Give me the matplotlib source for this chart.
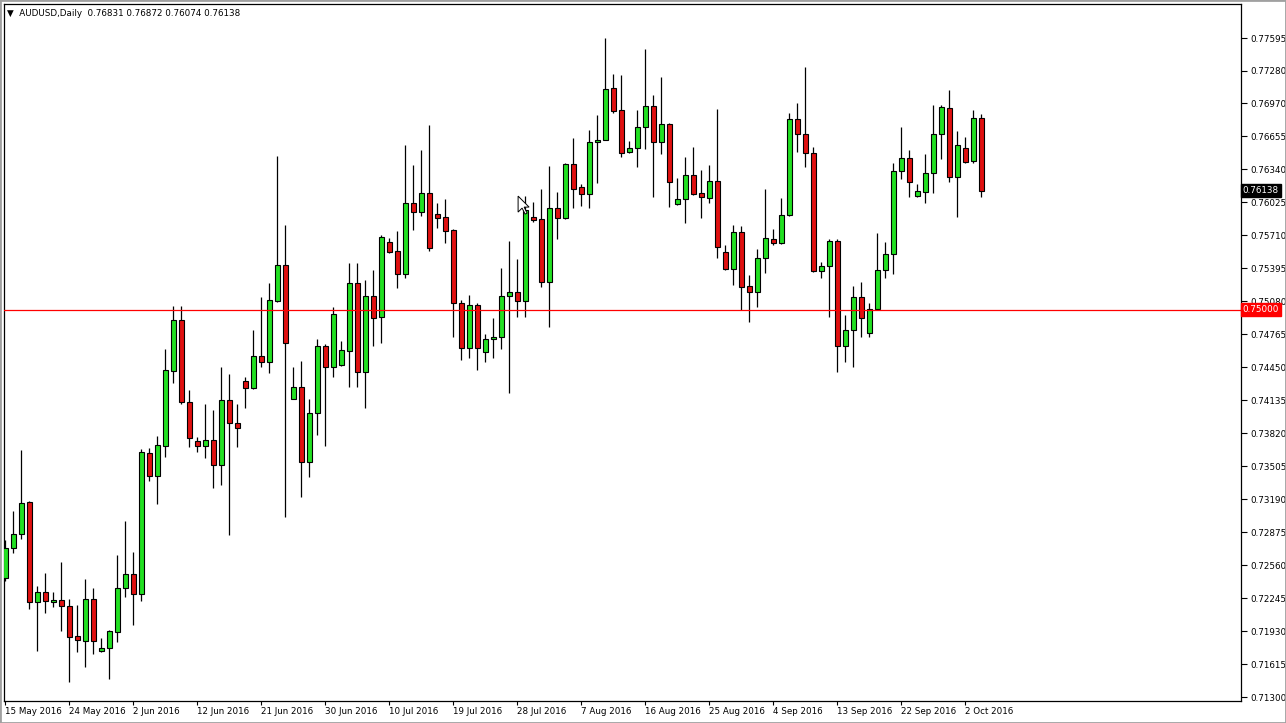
"""AUDUSD daily candles, MT4 style."""

import matplotlib
matplotlib.use('Agg')
import matplotlib.pyplot as plt
from matplotlib.patches import Rectangle, Polygon
from matplotlib.transforms import Affine2D, blended_transform_factory


# ================================== data ===================================

opens = [
    0.72437, 0.72724, 0.72857, 0.73163, 0.72208, 0.72303, 0.72208, 0.72227,
    0.72170, 0.71883, 0.71835, 0.72236, 0.71740, 0.71768, 0.71921, 0.72341,
    0.72475, 0.72284, 0.73631, 0.73411, 0.73698, 0.74414, 0.74901, 0.74118,
    0.73746, 0.73698, 0.73755, 0.73516, 0.74137, 0.73918, 0.74319, 0.74252,
    0.74558, 0.74500, 0.75083, 0.75427, 0.74147, 0.74261, 0.73545, 0.74013,
    0.74653, 0.74452, 0.74472, 0.74605, 0.75255, 0.74405, 0.75131, 0.74930,
    0.75646, 0.75560, 0.75341, 0.76019, 0.75933, 0.76114, 0.75914, 0.75885,
    0.75761, 0.75064, 0.74634, 0.75045, 0.74596, 0.74720, 0.74739, 0.75131,
    0.75169, 0.75083, 0.75885, 0.75866, 0.75264, 0.75971, 0.75876, 0.76392,
    0.76172, 0.76105, 0.76602, 0.76621, 0.77117, 0.76907, 0.76506, 0.76544,
    0.76745, 0.76946, 0.76602, 0.76774, 0.76009, 0.76057, 0.76286, 0.76114,
    0.76067, 0.76229, 0.75551, 0.75389, 0.75742, 0.75226, 0.75169, 0.75494,
    0.75675, 0.75637, 0.75904, 0.76821, 0.76678, 0.76497, 0.75369, 0.75417,
    0.75656, 0.74653, 0.74806, 0.75121, 0.74777, 0.75006, 0.75379, 0.75532,
    0.76325, 0.76449, 0.76086, 0.76124, 0.76306, 0.76678, 0.76926, 0.76267,
    0.76544, 0.76420, 0.76831,
]
highs = [
    0.72800, 0.73077, 0.73660, 0.73172, 0.72361, 0.72485, 0.72303, 0.72590,
    0.72236, 0.72179, 0.72427, 0.72341, 0.71864, 0.71940, 0.72657, 0.72981,
    0.72685, 0.73669, 0.73679, 0.73793, 0.74624, 0.75035, 0.75035, 0.74233,
    0.73784, 0.74099, 0.74042, 0.74452, 0.74386, 0.74099, 0.74357, 0.74806,
    0.75121, 0.75255, 0.76468, 0.75809, 0.74452, 0.74510, 0.74147, 0.74720,
    0.74672, 0.75026, 0.74701, 0.75446, 0.75446, 0.75283, 0.75379, 0.75713,
    0.75685, 0.75752, 0.76573, 0.76382, 0.76525, 0.76764, 0.76019, 0.76057,
    0.75770, 0.75092, 0.75140, 0.75064, 0.74768, 0.74921, 0.75398, 0.75656,
    0.75484, 0.76086, 0.76029, 0.76153, 0.76372, 0.76124, 0.76401, 0.76640,
    0.76200, 0.76716, 0.76860, 0.77595, 0.77251, 0.77242, 0.76611, 0.76907,
    0.77490, 0.77051, 0.77223, 0.76783, 0.76258, 0.76458, 0.76554, 0.76334,
    0.76382, 0.76917, 0.75618, 0.75809, 0.75799, 0.75331, 0.75580, 0.76153,
    0.75771, 0.76067, 0.76879, 0.76974, 0.77318, 0.76554, 0.75455, 0.75675,
    0.75675, 0.74949, 0.75226, 0.75264, 0.75064, 0.75732, 0.75646, 0.76401,
    0.76745, 0.76525, 0.76200, 0.76487, 0.76955, 0.76955, 0.77098, 0.76707,
    0.76649, 0.76907, 0.76872,
]
lows = [
    0.72408, 0.72676, 0.72809, 0.72141, 0.71740, 0.72103, 0.72160, 0.71931,
    0.71444, 0.71730, 0.71587, 0.71711, 0.71730, 0.71472, 0.71826, 0.72255,
    0.71988, 0.72217, 0.73363, 0.73144, 0.73593, 0.74300, 0.74099, 0.73688,
    0.73641, 0.73583, 0.73297, 0.73325, 0.72848, 0.73688, 0.74061, 0.74242,
    0.74452, 0.74395, 0.75073, 0.73020, 0.74147, 0.73211, 0.73402, 0.73803,
    0.73698, 0.74357, 0.74462, 0.74261, 0.74261, 0.74061, 0.74653, 0.74682,
    0.75541, 0.75207, 0.75303, 0.75761, 0.75895, 0.75560, 0.75780, 0.75637,
    0.74739, 0.74519, 0.74538, 0.74424, 0.74500, 0.74538, 0.74624, 0.74204,
    0.74930, 0.74930, 0.75838, 0.75217, 0.74835, 0.75675, 0.75866, 0.75971,
    0.75990, 0.75971, 0.76210, 0.76621, 0.76879, 0.76458, 0.76497, 0.76363,
    0.76535, 0.76076, 0.76487, 0.75981, 0.76000, 0.75828, 0.76095, 0.75876,
    0.76019, 0.75494, 0.75379, 0.75236, 0.74997, 0.74882, 0.75026, 0.75350,
    0.75618, 0.75627, 0.75895, 0.76506, 0.76363, 0.75360, 0.75303, 0.74930,
    0.74405, 0.74500, 0.74452, 0.74739, 0.74739, 0.74997, 0.75303, 0.75341,
    0.76248, 0.76076, 0.76076, 0.76019, 0.76114, 0.76439, 0.76220, 0.75885,
    0.76401, 0.76401, 0.76074,
]
closes = [
    0.72724, 0.72857, 0.73153, 0.72208, 0.72303, 0.72217, 0.72227, 0.72170,
    0.71873, 0.71845, 0.72236, 0.71835, 0.71768, 0.71931, 0.72341, 0.72475,
    0.72284, 0.73641, 0.73411, 0.73707, 0.74424, 0.74901, 0.74118, 0.73774,
    0.73698, 0.73755, 0.73516, 0.74137, 0.73918, 0.73870, 0.74252, 0.74558,
    0.74500, 0.75092, 0.75427, 0.74682, 0.74261, 0.73545, 0.74013, 0.74653,
    0.74452, 0.74959, 0.74615, 0.75255, 0.74405, 0.75131, 0.74921, 0.75694,
    0.75551, 0.75341, 0.76019, 0.75933, 0.76114, 0.75589, 0.75876, 0.75752,
    0.75064, 0.74634, 0.75045, 0.74634, 0.74720, 0.74739, 0.75131, 0.75169,
    0.75083, 0.75952, 0.75857, 0.75264, 0.75971, 0.75876, 0.76392, 0.76153,
    0.76105, 0.76602, 0.76621, 0.77108, 0.76898, 0.76497, 0.76544, 0.76745,
    0.76946, 0.76602, 0.76774, 0.76220, 0.76057, 0.76286, 0.76105, 0.76076,
    0.76229, 0.75599, 0.75389, 0.75742, 0.75217, 0.75169, 0.75494, 0.75685,
    0.75637, 0.75904, 0.76821, 0.76678, 0.76497, 0.75369, 0.75417, 0.75656,
    0.74653, 0.74806, 0.75121, 0.74921, 0.75006, 0.75379, 0.75532, 0.76325,
    0.76449, 0.76220, 0.76134, 0.76306, 0.76678, 0.76936, 0.76267, 0.76573,
    0.76411, 0.76831, 0.76138,
]

date_labels = [
    '15 May 2016', '24 May 2016', '2 Jun 2016', '12 Jun 2016', '21 Jun 2016',
    '30 Jun 2016', '10 Jul 2016', '19 Jul 2016', '28 Jul 2016', '7 Aug 2016',
    '16 Aug 2016', '25 Aug 2016', '4 Sep 2016', '13 Sep 2016', '22 Sep 2016',
    '2 Oct 2016',
]
label_step = 8  # one date label every 8 bars

price_ticks = [
    0.77595, 0.77280, 0.76970, 0.76655, 0.76340, 0.76025, 0.75710, 0.75395,
    0.75080, 0.74765, 0.74450, 0.74135, 0.73820, 0.73505, 0.73190, 0.72875,
    0.72560, 0.72245, 0.71930, 0.71615, 0.71300,
]

symbol = 'AUDUSD,Daily'
level = 0.75000
cursor_at = (64.1, 0.76085)  # mouse pointer left on the chart

# ================================= styling =================================

BULL = '#22e022'
BEAR = '#e01010'
FONT = 'DejaVu Sans'
FS = 6.3


# ================================== chart ==================================

def main():
    plt.rcParams['font.family'] = FONT

    fig = plt.figure(figsize=(12.86, 7.23), dpi=100)
    fig.patch.set_facecolor('white')
    ax = fig.add_axes([4 / 1286, 22 / 723, 1237 / 1286, 697 / 723])
    ax.set_facecolor('white')

    n = len(opens)
    w = 0.62
    for i in range(n):
        o, h, l, c = opens[i], highs[i], lows[i], closes[i]
        ax.vlines(i, l, h, color='black', lw=0.9, zorder=2)
        color = BULL if c >= o else BEAR
        body = Rectangle((i - w / 2, min(o, c)), w, max(abs(c - o), 0.00002),
                         facecolor=color, edgecolor='black', lw=0.8, zorder=3)
        ax.add_patch(body)

    ax.axhline(level, color='#ff0000', lw=0.9, zorder=4)

    ax.set_xlim(-0.16, 154.46)
    ax.set_ylim(0.71262, 0.77920)

    # right price scale
    ax.yaxis.tick_right()
    ax.set_yticks(price_ticks)
    ax.set_yticklabels(['%.5f' % p for p in price_ticks])
    ax.tick_params(axis='y', direction='out', length=4, width=0.8,
                   labelsize=FS, pad=2.5, colors='black')

    # bottom date scale
    ax.set_xticks([k * label_step for k in range(len(date_labels))])
    ax.set_xticklabels(date_labels, ha='left')
    ax.tick_params(axis='x', direction='out', length=3, width=0.8,
                   labelsize=FS, pad=1.5)
    for lab in ax.get_xticklabels():
        lab.set_x(lab.get_position()[0])

    for sp in ax.spines.values():
        sp.set_linewidth(0.9)
        sp.set_color('black')

    # price tags on the scale
    tr = blended_transform_factory(ax.transAxes, ax.transData)
    ax.text(1.0015, closes[-1], '%.5f' % closes[-1], transform=tr,
            fontsize=FS, color='white', va='center', ha='left', zorder=10,
            bbox=dict(boxstyle='square,pad=0.25', fc='black', ec='black'),
            clip_on=False)
    ax.text(1.0015, level, '%.5f' % level, transform=tr,
            fontsize=FS, color='white', va='center', ha='left', zorder=10,
            bbox=dict(boxstyle='square,pad=0.25', fc='#ff0000', ec='#ff0000'),
            clip_on=False)

    # header line
    header = '\u25bc  %s  %.5f %.5f %.5f %.5f' % (
        symbol, opens[-1], highs[-1], lows[-1], closes[-1])
    ax.text(0.0025, 0.9925, header, transform=ax.transAxes, fontsize=FS,
            va='top', ha='left', color='black')

    # mouse pointer
    fig.canvas.draw()
    px, py = ax.transData.transform(cursor_at)
    shape = [(0, 0), (0, 16), (4, 12), (7, 18), (9, 17), (6, 11), (11, 11)]
    tf = Affine2D().scale(1, -1).translate(px, py)
    ax.add_patch(Polygon(shape, closed=True, facecolor='white',
                         edgecolor='black', lw=0.7, transform=tf, zorder=20,
                         clip_on=False))

    # window border
    fig.patches.append(Rectangle((0, 0), 1, 1, transform=fig.transFigure,
                                 fill=False, edgecolor='#a0a0a0', lw=2))

    fig.savefig('out.png', dpi=100, facecolor='white')


if __name__ == '__main__':
    main()
